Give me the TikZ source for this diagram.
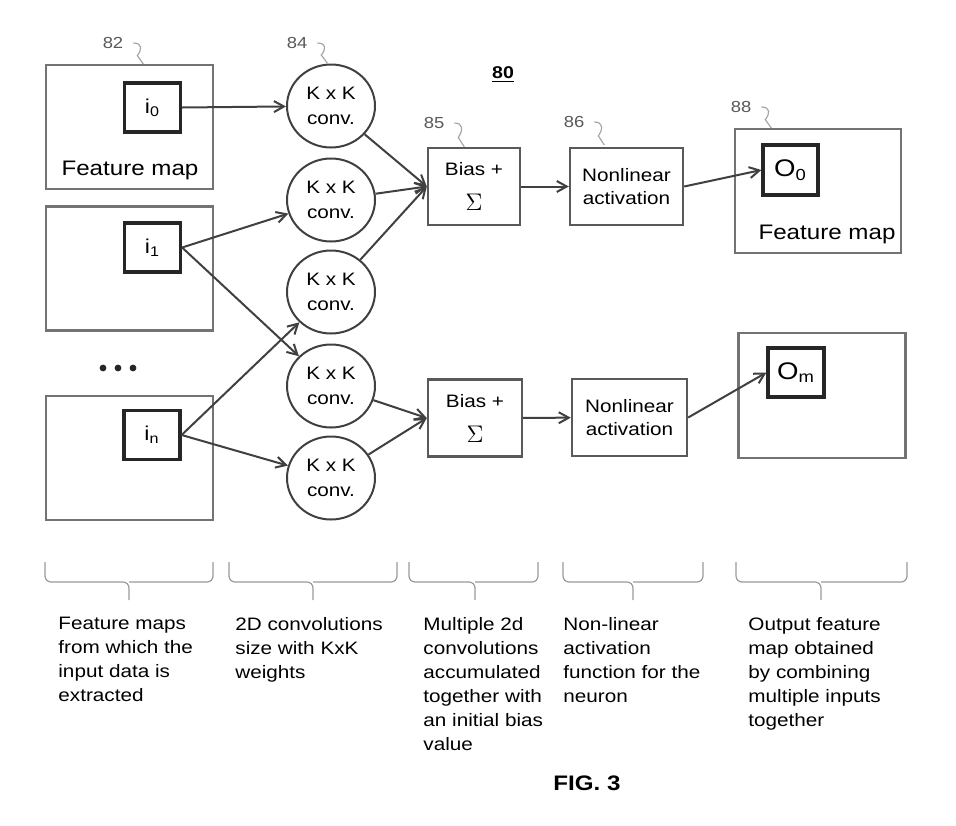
\documentclass[tikz,border=0pt]{standalone}
\usepackage{fontspec}
\setmainfont[FakeStretch=1.15]{Liberation Sans}
\usetikzlibrary{arrows.meta,shapes.geometric}

% small wavy leader from a reference numeral down to its part
\newcommand\leadline[2]{\draw[lead] (#1.east) ++(3,0) .. controls +(9,0) and +(5,-#2*0.3) .. +(4,#2*0.6) -- +(10,#2);}

\begin{document}
\begin{tikzpicture}[x=0.5pt,y=-0.5pt,>={Straight Barb[length=5pt,width=5.5pt]},
	map/.style={draw=black!55,line width=1.3pt,minimum width=83.5pt,minimum height=62pt},
	cell/.style={draw=black!85,line width=1.6pt,minimum width=28pt,minimum height=24.5pt},
	conv/.style={ellipse,draw=black!75,line width=1pt,minimum width=44pt,minimum height=41.5pt,inner sep=0pt,align=center,font=\fontsize{9}{12.5}\selectfont},
	unit/.style={draw=black!65,line width=1.2pt,minimum height=38.5pt,align=center,font=\fontsize{9}{11.5}\selectfont},
	num/.style={text=black!65,font=\fontsize{8}{9}\selectfont},
	lead/.style={black!35,line width=0.6pt},
	link/.style={->,black!75,line width=1pt},
	brace/.style={black!40,line width=0.6pt,rounded corners=3pt},
	note/.style={anchor=north west,align=left,inner sep=0pt,font=\fontsize{9}{12}\selectfont}]
	\useasboundingbox (0,0) rectangle (956,825);
	% input feature maps
	\node[map] (fm0) at (129.5,127) {};
	\node[map] (fm1) at (129.5,268.5) {};
	\node[map] (fmn) at (129.5,458) {};
	\node[cell,font=\fontsize{10}{12}\selectfont] (i0) at (152.5,107.5) {i\textsubscript{0}};
	\node[cell,font=\fontsize{10}{12}\selectfont] (i1) at (152.5,247.5) {i\textsubscript{1}};
	\node[cell,font=\fontsize{10}{12}\selectfont] (in) at (152,435) {i\textsubscript{n}};
	\node[font=\fontsize{10.5}{12}\selectfont] (fmlab) at (130,170) {Feature map};
	\foreach \x in {103,118,133}{
		\fill[black!85] (\x,368) circle(1.7pt);%dots
	}
	% convolutions
	\foreach \y [count=\k] in {106,200,292,386,478}{
		\node[conv] (c\k) at (331,\y) {K x K\\conv.};
	}
	% sums and activations
	\node[unit,minimum width=46pt] (b1) at (474,186.5) {Bias +\\[6pt]{\fontsize{12}{12}\selectfont$\Sigma$}};
	\node[unit,minimum width=47pt] (b2) at (475,418) {Bias +\\[6pt]{\fontsize{12}{12}\selectfont$\Sigma$}};
	\node[unit,minimum width=56.5pt] (n1) at (626.5,186.5) {Nonlinear\\activation};
	\node[unit,minimum width=57.5pt] (n2) at (629.5,417.5) {Nonlinear\\activation};
	% output feature maps
	\node[map,minimum width=83pt] (ofm0) at (818,191) {};
	\node[map,minimum height=62.5pt] (ofm1) at (822,395.5) {};
	\node[cell,minimum width=27.5pt,minimum height=25pt,font=\fontsize{12}{14}\selectfont] (o0) at (790.5,170) {O\textsubscript{0}};
	\node[cell,minimum width=28pt,minimum height=24.5pt,font=\fontsize{12}{14}\selectfont] (om) at (796,372.5) {O\textsubscript{m}};
	\node[font=\fontsize{10.5}{12}\selectfont] (ofmlab) at (827,234) {Feature map};
	% reference numerals
	\node[font=\bfseries\fontsize{8.5}{10}\selectfont] (n80) at (503,75) {\underline{80}};
	\node[num] (n82) at (113,43) {82};
	\node[num] (n84) at (297,43) {84};
	\node[num] (n85) at (434,123) {85};
	\node[num] (n86) at (574,122) {86};
	\node[num] (n88) at (741,107) {88};
	\leadline{n82}{21}
	\leadline{n84}{20}
	\leadline{n85}{24}
	\leadline{n86}{23}
	\leadline{n88}{21}
	% connections
	\draw[link] (i0.east) -- (c1);
	\draw[link] (i1.east) -- (c2);
	\draw[link] (i1.east) -- (c4);
	\draw[link] (in.east) -- (c3);
	\draw[link] (in.east) -- (c5);
	\draw[link] (c1) -- (b1.west);
	\draw[link] (c2) -- (b1.west);
	\draw[link] (c3) -- (b1.west);
	\draw[link] (c4) -- (b2.west);
	\draw[link] (c5) -- (b2.west);
	\draw[link] (b1) -- (n1);
	\draw[link] (b2) -- (n2);
	\draw[link] (n1.east) -- (o0.west);
	\draw[link] (n2.east) -- (om.west);
	% braces and notes
	\foreach \a/\m/\b in {45/129/213,229/313/397,409/475/538,563/633/703,736/821/907}{
		\draw[brace] (\a,562) |- (\m,582) -- (\m,600);
		\draw[brace] (\b,562) |- (\m,582);
	}
	\node[note] (t1) at (58,617) {Feature maps\\from which the\\input data is\\extracted};
	\node[note] (t2) at (235,617) {2D convolutions\\size with KxK\\weights};
	\node[note] (t3) at (423,617) {Multiple 2d\\convolutions\\accumulated\\together with\\an initial bias\\value};
	\node[note] (t4) at (563,617) {Non-linear\\activation\\function for the\\neuron};
	\node[note] (t5) at (748,617) {Output feature\\map obtained\\by combining\\multiple inputs\\together};
	\node[font=\bfseries\fontsize{10.5}{12}\selectfont] (fig) at (587,783) {FIG. 3};
\end{tikzpicture}
\end{document}
